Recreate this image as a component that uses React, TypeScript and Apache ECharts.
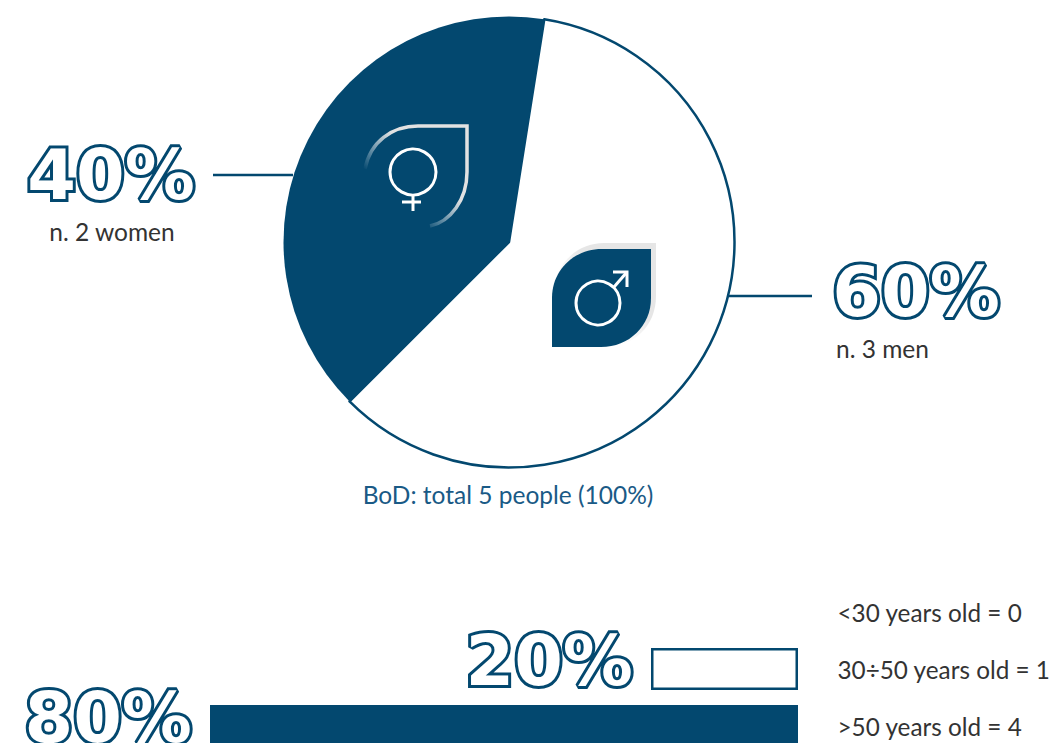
import React, { useEffect, useRef } from "react";
import * as echarts from "echarts";

const NAVY = "#03486f";
const TEXT = "#333333";

// Board of directors by gender
const genders = ["men", "women"];
const genderCounts = [3, 2];
const boardCaption = "BoD: total 5 people (100%)";

// Board of directors by age band
const ageBands = ["<30 years old", "30÷50 years old", ">50 years old"];
const ageCounts = [0, 1, 4];

const boardTotal = genderCounts.reduce((a, b) => a + b, 0);
const share = (n: number) => `${Math.round((n / boardTotal) * 100)}%`;

const outlined = {
  fontFamily: "DejaVu Sans",
  fontWeight: 700,
  fontSize: 70,
  color: "#ffffff",
  textBorderColor: NAVY,
  textBorderWidth: 6,
};

const LEAF_OUTLINE = "M365 169 C370 142 392 126 418 126 L467 126 L467 172 C467 200 450 222 430 226";
const LEAF_SOLID = "M552 347 L552 298 C552 270 574 249 602 249 L651 249 L651 298 C651 326 629 347 601 347 Z";
const LEAF_SHADE = "M552 300 C552 268 574 243 604 243 L656 243 L656 296 C656 326 634 347 604 347 L552 347 Z";

echarts.graphic.registerShape("leafOutline", echarts.graphic.extendPath(LEAF_OUTLINE as any, {}));
echarts.graphic.registerShape("leafSolid", echarts.graphic.extendPath(LEAF_SOLID as any, {}));
echarts.graphic.registerShape("leafShade", echarts.graphic.extendPath(LEAF_SHADE as any, {}));

const fade = (color: string, stop: number) =>
  new echarts.graphic.LinearGradient(1, 0, 0, 1, [
    { offset: 0, color },
    { offset: 0.4, color },
    { offset: stop, color: "rgba(255,255,255,0)" },
  ]);

function genderIcons() {
  const white = { stroke: "#ffffff", lineWidth: 3, fill: "none", lineCap: "butt" };
  return [
    { type: "leafOutline", x: 0, y: 0, z: 10, style: { fill: "none", stroke: fade("#e2e2e2", 0.72), lineWidth: 3.5 } },
    { type: "circle", z: 11, shape: { cx: 413, cy: 172, r: 23 }, style: white },
    { type: "line", z: 11, shape: { x1: 413, y1: 195, x2: 413, y2: 211 }, style: white },
    { type: "line", z: 11, shape: { x1: 402, y1: 202, x2: 421, y2: 202 }, style: white },
    { type: "leafShade", x: 0, y: 0, z: 10, style: { fill: fade("#e6e6e6", 0.75) } },
    { type: "leafSolid", x: 0, y: 0, z: 11, style: { fill: NAVY } },
    { type: "circle", z: 12, shape: { cx: 598, cy: 303, r: 22 }, style: white },
    { type: "line", z: 12, shape: { x1: 614, y1: 287, x2: 627, y2: 272 }, style: white },
    { type: "polyline", z: 12, shape: { points: [[613, 272], [627, 272], [627, 287]] }, style: white },
  ];
}

function plainText(text: string, x: number, y: number, color = TEXT, align = "left") {
  return {
    type: "text",
    x,
    y,
    z: 12,
    style: { text, fill: color, font: "400 24.5px Lato", align, verticalAlign: "middle" },
  };
}

export default function App() {
  const ref = useRef<HTMLDivElement>(null);

  useEffect(() => {
    const chart = echarts.init(ref.current!, undefined, { renderer: "svg" });
    const labelSpot: Record<string, { x: number; y: number }> = {
      women: { x: 111, y: 175 },
      men: { x: 916, y: 292 },
    };

    chart.setOption({
      animation: false,
      backgroundColor: "#ffffff",
      grid: { left: 210, right: 251, top: 583.5, height: 171, outerBoundsMode: "none" },
      xAxis: { type: "value", inverse: true, min: 0, max: 4, show: false },
      yAxis: {
        type: "category",
        data: ageBands,
        inverse: true,
        position: "right",
        axisLine: { show: false, onZero: false },
        axisTick: { show: false },
        axisLabel: {
          margin: 39.5,
          align: "left",
          fontFamily: "Lato",
          fontSize: 24.3,
          color: TEXT,
          formatter: (v: string) => `${v} = ${ageCounts[ageBands.indexOf(v)]}`,
        },
      },
      series: [
        {
          type: "pie",
          center: [509, 242],
          radius: 225.5,
          startAngle: 81,
          clockwise: true,
          silent: true,
          data: genders.map((name, i) => ({
            name,
            value: genderCounts[i],
            itemStyle:
              name === "women"
                ? { color: NAVY, borderWidth: 0 }
                : { color: "#ffffff", borderColor: NAVY, borderWidth: 2.5 },
          })),
          label: {
            show: true,
            position: "outside",
            ...outlined,
            formatter: (p: any) => share(p.value),
          },
          labelLine: { show: false },
          labelLayout: (p: any) => {
            const spot = labelSpot[p.dataIndex === 0 ? "men" : "women"];
            return { x: spot.x, y: spot.y, align: "center", verticalAlign: "middle", hideOverlap: false };
          },
        },
        {
          type: "bar",
          data: ageCounts.map((value) => ({
            value,
            itemStyle:
              value === Math.max(...ageCounts)
                ? { color: NAVY, borderWidth: 0 }
                : { color: "#ffffff", borderColor: NAVY, borderWidth: value > 0 ? 2.5 : 0 },
          })),
          barWidth: 42,
          silent: true,
          label: {
            show: true,
            position: "left",
            distance: 18,
            offset: [0, -8],
            ...outlined,
            formatter: (p: any) => (p.value > 0 ? share(p.value) : ""),
          },
        },
      ],
      graphic: [
        { type: "line", z: 3, shape: { x1: 213, y1: 175, x2: 293, y2: 175 }, style: { stroke: NAVY, lineWidth: 2.5 } },
        { type: "line", z: 3, shape: { x1: 727, y1: 296, x2: 812, y2: 296 }, style: { stroke: NAVY, lineWidth: 2.5 } },
        plainText(`n. ${genderCounts[1]} ${genders[1]}`, 112, 231.5, TEXT, "center"),
        plainText(`n. ${genderCounts[0]} ${genders[0]}`, 836, 348.5),
        plainText(boardCaption, 508, 494.5, "#1a5a86", "center"),
        ...genderIcons(),
      ],
    });
    return () => chart.dispose();
  }, []);

  return <div ref={ref} style={{ position: "absolute", left: 0, top: 0, width: 1049, height: 743 }} />;
}
